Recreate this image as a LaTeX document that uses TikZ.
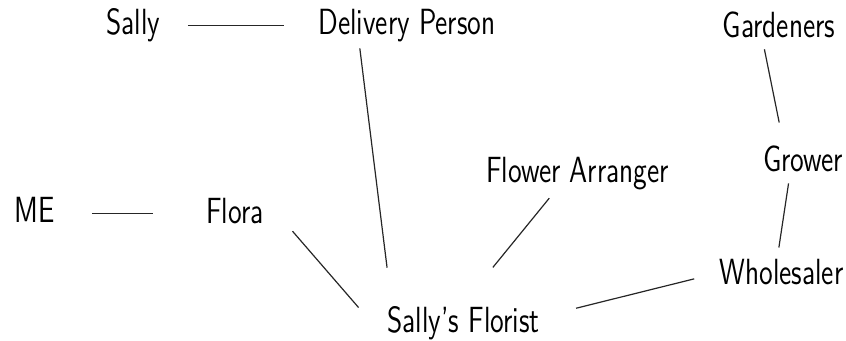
\documentclass[tikz,border=0pt]{standalone}
\usepackage{tikz}
\usetikzlibrary{calc}

\newcommand{\tallname}[1]{\scalebox{1}[1.3]{#1}}

\begin{document}
\begin{tikzpicture}[x=0.5pt, y=-0.5pt,
		who/.style={anchor=base, inner sep=0pt, text height=12.6pt, text depth=3.5pt, font=\sffamily\fontsize{14}{17}\selectfont},
		tie/.style={line width=0.6pt, black!85}]
		\useasboundingbox (0,0) rectangle (846,341);
		\node[who] (sally) at (133.5,35) {\tallname{Sally}};
		\node[who] (delivery) at (407,35) {\tallname{Delivery Person}};
		\node[who] (gardeners) at (779,38) {\tallname{Gardeners}};
		\node[who] (grower) at (803,172) {\tallname{Grower}};
		\node[who] (arranger) at (577.5,183) {\tallname{Flower Arranger}};
		\node[who] (me) at (34.5,223) {\tallname{ME}};
		\node[who] (flora) at (235,224) {\tallname{Flora}};
		\node[who] (wholesaler) at (781.5,285) {\tallname{Wholesaler}};
		\node[who] (florist) at (463.5,333) {\tallname{Sally's Florist}};
		\draw[tie, shorten <=13.5pt, shorten >=17pt] (sally.east) -- (delivery.west);
		\draw[tie, shorten <=18.5pt, shorten >=26.5pt] (me.east) -- (me.east -| flora.west);
		\draw[tie, shorten <=3pt, shorten >=20pt] (delivery.199) -- (florist.167);
		\draw[tie, shorten <=21.7pt, shorten >=21.7pt] (flora.north east) -- (florist.south west);
		\draw[tie, shorten <=5pt, shorten >=25.8pt] (arranger.217) -- (florist.101);
		\draw[tie, shorten <=2pt, shorten >=12.2pt] (gardeners.227) -- (grower.139);
		\draw[tie, shorten <=2pt, shorten >=6pt] (grower.230) -- (wholesaler.105);
		\draw[tie, shorten <=12.9pt, shorten >=18.6pt] (wholesaler.177) -- (florist.5);
	\end{tikzpicture}
\end{document}
